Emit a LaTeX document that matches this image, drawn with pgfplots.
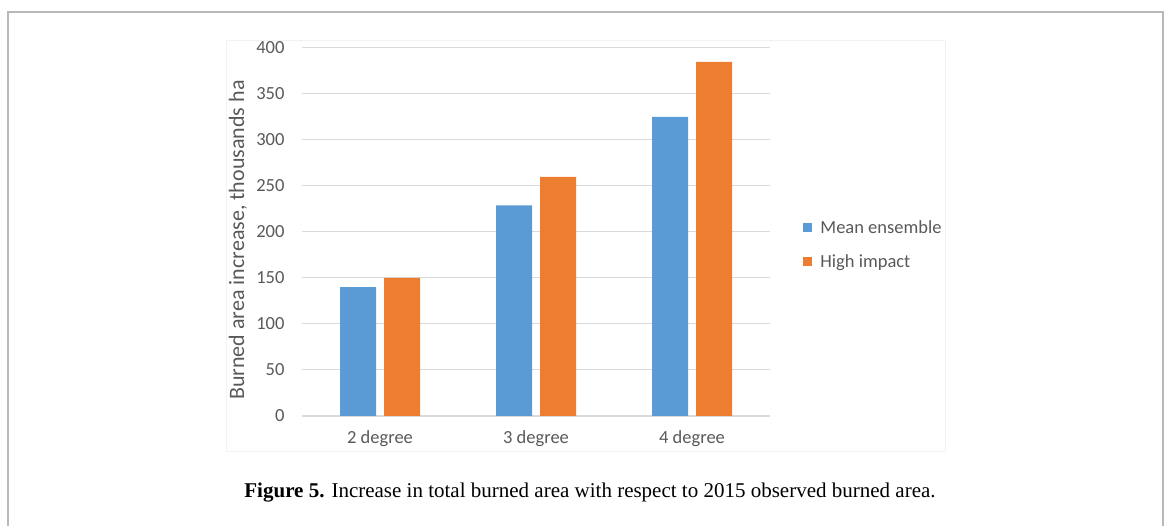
\documentclass[border=0pt]{standalone}
\usepackage{pgfplots}
\pgfplotsset{compat=1.18}
\usepackage{fontspec}
\setmainfont{Carlito}
\newfontfamily\capfont{Liberation Serif}
\definecolor{cblue}{HTML}{5B9BD5}
\definecolor{corange}{HTML}{ED7D31}
\definecolor{ctext}{HTML}{595959}
\definecolor{cgrid}{HTML}{D9D9D9}
\pgfplotstableread{
x mean high
0 140 150
1 229 260
2 325 385
}\datatable
\begin{document}
\begin{tikzpicture}[x=1pt,y=1pt]
\useasboundingbox (0,0) rectangle (1167,525);
\draw[color=black!28, line width=1.2pt] (8,513) rectangle (1163,-10);
\draw[color=black!5, line width=0.8pt] (226,485) rectangle (945,74);
\begin{axis}[
  at={(302pt,109pt)}, anchor=south west,
  scale only axis, width=468pt, height=368pt,
  ybar=8pt, bar width=36pt,
  xmin=-0.5, xmax=2.5, ymin=0, ymax=400,
  xtick={0,1,2}, xticklabels={2 degree,3 degree,4 degree},
  ytick={0,50,...,400},
  /pgf/number format/assume math mode=true,
  axis line style={draw=none},
  major tick length=0pt,
  ymajorgrids, grid style={cgrid, line width=1pt},
  extra y ticks={0}, extra y tick labels={}, extra y tick style={grid style={cgrid,line width=1.2pt}},
  tick label style={font=\fontsize{18.5}{22}\selectfont, text=ctext},
  yticklabel style={xshift=-14pt},
  xticklabel style={yshift=-11pt},
  ylabel={Burned area increase, thousands ha},
  ylabel style={at={(axis description cs:-0.137,0.478)}, anchor=center, font=\fontsize{22}{26}\selectfont, text=ctext},
  legend style={at={(axis description cs:1.071,0.466)}, anchor=west, draw=none, fill=none,
     font=\fontsize{18.5}{22}\selectfont, text=ctext, row sep=16pt, inner sep=0pt,
     /tikz/every odd column/.style={column sep=6pt}},
  legend image code/.code={\path[#1,draw=none] (0pt,-4.5pt) rectangle (9pt,4.5pt);},
  legend cell align=left,
]
\addplot[fill=cblue, draw=none] table[x=x,y=mean] {\datatable};
\addplot[fill=corange, draw=none] table[x=x,y=high] {\datatable};
\legend{Mean ensemble, High impact}
\end{axis}
\node[anchor=base, font=\capfont\fontsize{21}{25}\selectfont] at (590,28) {\textbf{Figure 5.} Increase in total burned area with respect to 2015 observed burned area.};
\end{tikzpicture}
\end{document}
